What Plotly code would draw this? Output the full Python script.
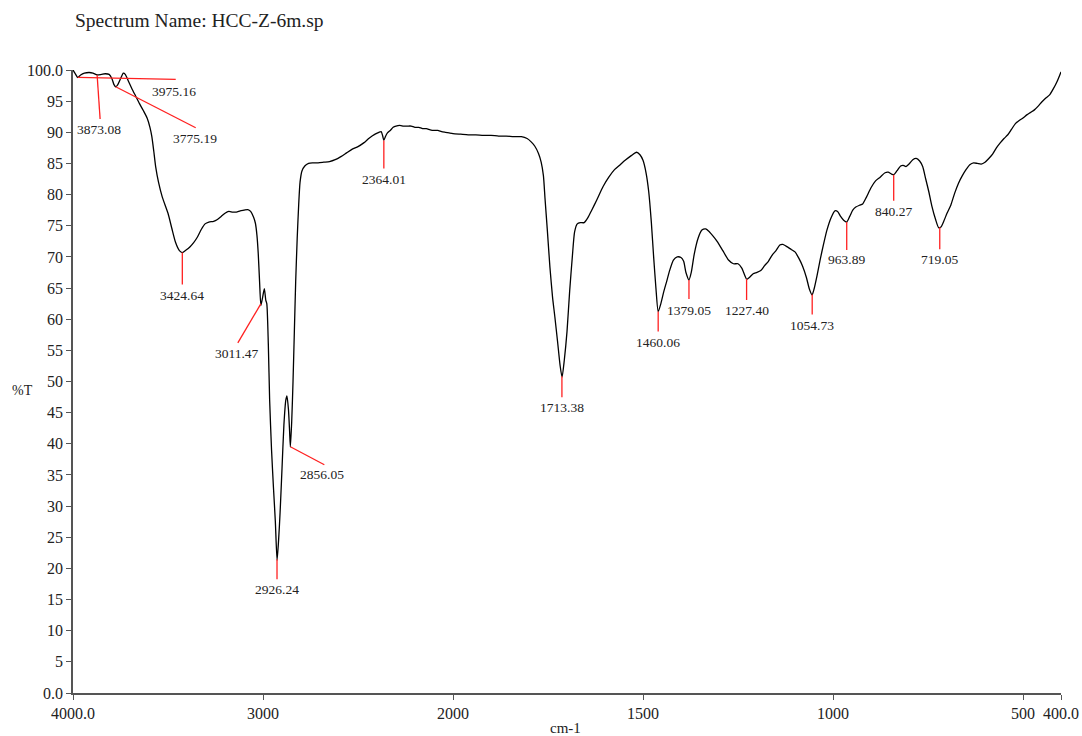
import numpy as np
import plotly.graph_objects as go

# ---- spectrum data (wavenumber in cm-1, transmittance in %T) ----
wavenumber = [
    4000, 3990, 3975, 3960, 3940, 3915, 3895, 3873, 3850, 3830, 3810, 3795, 3785, 3775,
    3765, 3750, 3735, 3725, 3710, 3690, 3670, 3650, 3630, 3610, 3595, 3585, 3575, 3565,
    3550, 3530, 3500, 3480, 3460, 3440, 3425, 3405, 3385, 3365, 3345, 3325, 3305, 3285,
    3260, 3240, 3220, 3200, 3180, 3160, 3140, 3120, 3100, 3080, 3065, 3050, 3040, 3032,
    3025, 3018, 3011, 3002, 2993, 2985, 2980, 2972, 2965, 2955, 2945, 2935, 2926, 2918,
    2910, 2900, 2890, 2880, 2874, 2866, 2860, 2856, 2849, 2842, 2835, 2828, 2820, 2812,
    2805, 2795, 2780, 2760, 2740, 2710, 2680, 2650, 2620, 2590, 2560, 2530, 2500, 2470,
    2440, 2410, 2390, 2378, 2370, 2364, 2356, 2345, 2330, 2315, 2300, 2280, 2260, 2240,
    2220, 2200, 2180, 2160, 2140, 2120, 2100, 2080, 2060, 2040, 2020, 2000, 1980, 1960,
    1940, 1920, 1900, 1880, 1860, 1840, 1820, 1805, 1795, 1785, 1775, 1768, 1762, 1758,
    1752, 1745, 1738, 1732, 1725, 1718, 1713, 1707, 1700, 1693, 1686, 1680, 1673, 1665,
    1655, 1645, 1635, 1622, 1605, 1590, 1575, 1560, 1547, 1530, 1517, 1508, 1500, 1492,
    1485, 1478, 1472, 1466, 1460, 1453, 1445, 1438, 1430, 1420, 1410, 1400, 1393, 1387,
    1379, 1373, 1365, 1355, 1345, 1335, 1325, 1315, 1305, 1290, 1275, 1262, 1250, 1240,
    1227, 1220, 1210, 1200, 1190, 1180, 1170, 1160, 1150, 1140, 1132, 1120, 1110, 1100,
    1090, 1080, 1070, 1062, 1055, 1050, 1042, 1034, 1025, 1016, 1005, 995, 988, 980,
    972, 964, 956, 948, 940, 930, 922, 912, 900, 888, 876, 863, 855, 846, 840, 832, 822,
    815, 808, 800, 790, 781, 772, 764, 756, 748, 740, 730, 722, 716, 708, 700, 690, 680,
    670, 660, 650, 640, 630, 620, 610, 600, 590, 580, 570, 560, 550, 540, 530, 520, 510,
    500, 490, 480, 470, 460, 450, 440, 430, 420, 410, 400,
]
transmittance = [
    100.0, 99.5, 98.8, 99.2, 99.5, 99.6, 99.5, 99.2, 99.3, 99.4, 99.3, 98.6, 97.7, 97.3,
    97.6, 98.6, 99.5, 99.3, 98.3, 97.0, 95.8, 94.6, 93.5, 92.3, 90.8, 89.3, 87.0, 84.5,
    82.0, 79.6, 77.0, 74.6, 72.3, 71.0, 70.7, 71.1, 71.6, 72.3, 73.2, 74.4, 75.3, 75.6,
    75.7, 76.0, 76.5, 77.0, 77.3, 77.2, 77.2, 77.4, 77.5, 77.6, 77.3, 76.4, 75.4, 73.5,
    70.5, 66.0, 62.2, 63.5, 64.9, 63.0, 62.5, 56.0, 47.0, 39.0, 33.0, 27.5, 21.3, 24.5,
    29.0, 36.0, 43.0, 47.0, 47.7, 45.5, 42.0, 39.5, 43.5, 50.0, 58.0, 66.0, 73.0, 78.5,
    82.0, 83.8, 84.6, 85.0, 85.1, 85.1, 85.2, 85.3, 85.6, 86.1, 86.7, 87.3, 87.7, 88.3,
    89.1, 89.7, 90.0, 90.1, 89.4, 88.7, 89.3, 89.9, 90.3, 90.8, 91.0, 91.1, 91.0, 91.0,
    91.0, 90.8, 90.8, 90.6, 90.6, 90.4, 90.3, 90.3, 90.1, 90.0, 89.9, 89.8, 89.7, 89.6,
    89.6, 89.5, 89.5, 89.4, 89.4, 89.3, 89.3, 89.0, 88.5, 87.8, 86.6, 85.2, 83.0, 79.5,
    74.5, 68.4, 63.5, 60.4, 56.5, 52.5, 50.7, 53.5, 58.0, 64.5, 70.0, 74.0, 75.3, 75.5,
    75.5, 76.3, 77.5, 79.1, 81.3, 82.8, 84.0, 84.8, 85.5, 86.3, 86.8, 86.4, 85.5, 83.5,
    80.5, 75.5, 70.0, 65.0, 61.2, 62.5, 64.5, 66.0, 67.8, 69.5, 70.0, 69.9, 69.3, 67.5,
    66.3, 67.5, 70.5, 73.0, 74.3, 74.5, 74.0, 73.3, 72.5, 71.0, 69.5, 68.9, 68.9, 68.2,
    66.4, 66.7, 67.3, 67.5, 67.8, 68.6, 69.3, 70.3, 71.0, 71.9, 72.0, 71.6, 71.2, 70.8,
    69.8, 68.5, 66.7, 64.8, 63.9, 64.8, 67.0, 69.5, 72.0, 74.3, 76.3, 77.4, 77.3, 76.5,
    75.9, 75.6, 76.5, 77.5, 78.0, 78.3, 78.5, 79.6, 81.1, 82.2, 82.8, 83.5, 83.6, 83.3,
    83.2, 83.8, 84.6, 84.7, 84.5, 84.9, 85.6, 85.8, 85.4, 84.5, 82.5, 80.5, 78.2, 76.0,
    74.7, 74.8, 75.8, 77.0, 78.3, 80.2, 81.8, 83.0, 84.0, 84.8, 85.1, 85.0, 84.9, 85.2,
    85.8, 86.5, 87.5, 88.3, 89.0, 89.6, 90.5, 91.4, 91.9, 92.3, 92.8, 93.2, 93.6, 94.2,
    94.9, 95.5, 96.0, 97.0, 98.2, 99.7,
]

# labelled absorption peaks
peak_labels = ["3975.16", "3873.08", "3775.19", "3424.64", "3011.47", "2926.24",
               "2856.05", "2364.01", "1713.38", "1460.06", "1379.05", "1227.40",
               "1054.73", "963.89", "840.27", "719.05"]

# axis ticks
x_tick_values = [4000, 3000, 2000, 1500, 1000, 500, 400]
x_tick_text = ["4000.0", "3000", "2000", "1500", "1000", "500", "400.0"]
y_tick_values = list(range(0, 101, 5))
y_tick_text = ["0.0"] + [str(v) for v in range(5, 100, 5)] + ["100.0"]


def to_axis(w):
    """Scale-expanded wavenumber axis: below 2000 cm-1 the scale doubles."""
    w = np.asarray(w, dtype=float)
    return np.where(w >= 2000, 4000 - w, 2000 + 2 * (2000 - w))


wn = np.array(wavenumber, dtype=float)
tr = np.array(transmittance, dtype=float)
peak_wn = np.array([float(s) for s in peak_labels])
# %T at each labelled peak, taken from the spectrum itself
peak_tr = np.interp(peak_wn[::-1], wn[::-1], tr[::-1])[::-1]

# leader-line end and label-centre offsets in screen pixels (dx right, dy down)
leader_style = [
    (98, 2, 96, 14), (3, 44, 2, 55), (80, 41, 79, 52), (0, 32, 0, 43),
    (-23, 39, -24, 50), (0, 20, 0, 30), (34, 18, 32, 28), (0, 28, 0, 39),
    (0, 21, 0, 31), (0, 20, 0, 31), (0, 19, 0, 31), (0, 21, 0, 32),
    (0, 20, 0, 31), (0, 28, 0, 38), (0, 26, 0, 37), (0, 22, 0, 32),
]

SERIF = "Liberation Serif"
TEXT = "#222222"
AXIS = "#555555"

fig = go.Figure()
fig.add_trace(go.Scatter(
    x=to_axis(wn), y=tr, mode="lines",
    line=dict(color="#000000", width=1.3, shape="spline", smoothing=0.6),
    hoverinfo="skip", showlegend=False,
))

shapes = []
annotations = []
for lbl, w, t, (lx, ly, tx, ty) in zip(peak_labels, peak_wn, peak_tr, leader_style):
    xa = float(to_axis(w))
    shapes.append(dict(
        type="line", xref="x", yref="y", xsizemode="pixel", ysizemode="pixel",
        xanchor=xa, yanchor=float(t), x0=0, y0=0, x1=lx, y1=-ly,
        line=dict(color="#ff2020", width=1.3),
    ))
    annotations.append(dict(
        x=xa, y=float(t), xref="x", yref="y", text=lbl, showarrow=False,
        xshift=tx, yshift=-ty, xanchor="center", yanchor="middle",
        font=dict(family=SERIF, size=13.5, color=TEXT),
    ))

annotations += [
    dict(x=0, y=1, xref="paper", yref="paper", text="Spectrum Name: HCC-Z-6m.sp",
         showarrow=False, xanchor="left", yanchor="middle", xshift=0, yshift=50,
         font=dict(family=SERIF, size=19.5, color=TEXT)),
    dict(x=0, y=0.486, xref="paper", yref="paper", text="%T", showarrow=False,
         xanchor="center", yanchor="middle", xshift=-51,
         font=dict(family=SERIF, size=14, color=TEXT)),
    dict(x=0.498, y=0, xref="paper", yref="paper", text="cm-1", showarrow=False,
         xanchor="center", yanchor="middle", yshift=-35,
         font=dict(family=SERIF, size=15, color=TEXT)),
]

fig.update_layout(
    width=1082, height=736,
    margin=dict(l=73, r=21, t=70, b=43),
    paper_bgcolor="white", plot_bgcolor="white",
    shapes=shapes, annotations=annotations,
    xaxis=dict(
        range=[0, 5200], tickmode="array",
        tickvals=to_axis(x_tick_values).tolist(), ticktext=x_tick_text,
        showgrid=False, zeroline=False, showline=True, linecolor=AXIS, linewidth=1.5,
        ticks="outside", ticklen=5, tickwidth=1.2, tickcolor=AXIS,
        tickfont=dict(family=SERIF, size=16, color=TEXT), automargin=False,
    ),
    yaxis=dict(
        range=[0, 100], tickmode="array", tickvals=y_tick_values, ticktext=y_tick_text,
        showgrid=False, zeroline=False, showline=True, linecolor=AXIS, linewidth=1.5,
        ticks="outside", ticklen=5, tickwidth=1.2, tickcolor=AXIS,
        tickfont=dict(family=SERIF, size=16, color=TEXT), automargin=False,
    ),
)

fig.write_html("out.html")
